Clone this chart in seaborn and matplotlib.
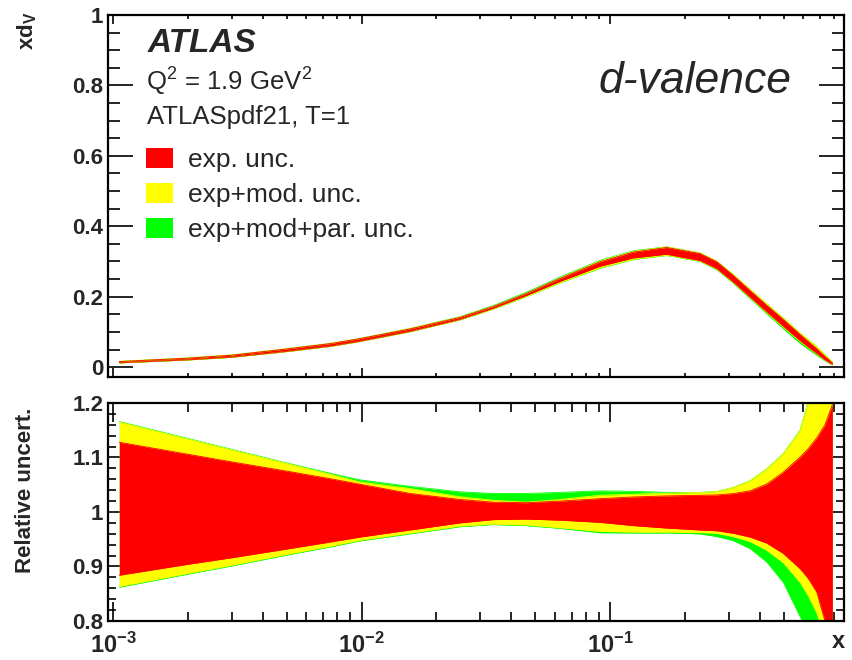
import numpy as np
import matplotlib
matplotlib.use("Agg")
import matplotlib.pyplot as plt
import seaborn as sns
from matplotlib.ticker import FixedLocator, LogLocator, FuncFormatter, NullFormatter
from matplotlib.patches import Patch

# ---------------- data ----------------
x = [0.00106, 0.002, 0.003, 0.005, 0.0075, 0.00986, 0.0157, 0.0249, 0.0339, 0.0462,
     0.063, 0.0912, 0.124, 0.169, 0.23, 0.269, 0.313, 0.366, 0.427, 0.498,
     0.582, 0.628, 0.679, 0.733, 0.785]
central = [0.014, 0.023, 0.031, 0.048, 0.063, 0.077, 0.105, 0.138, 0.169, 0.206,
           0.247, 0.292, 0.318, 0.330, 0.313, 0.290, 0.252, 0.209, 0.167, 0.126,
           0.084, 0.065, 0.046, 0.026, 0.010]
red_lo = [0.884, 0.904, 0.916, 0.932, 0.945, 0.954, 0.967, 0.980, 0.986, 0.987,
          0.985, 0.981, 0.975, 0.9705, 0.967, 0.9656, 0.961, 0.954, 0.943, 0.924,
          0.896, 0.878, 0.853, 0.800, 0.740]
red_hi = [1.128, 1.106, 1.092, 1.075, 1.061, 1.051, 1.034, 1.023, 1.018, 1.017,
          1.020, 1.0245, 1.0276, 1.0295, 1.0307, 1.0313, 1.0338, 1.0388, 1.0512, 1.073,
          1.1008, 1.1163, 1.136, 1.160, 1.197]
yel_lo = [0.863, 0.887, 0.902, 0.922, 0.937, 0.948, 0.961, 0.974, 0.9777, 0.976,
          0.971, 0.9643, 0.963, 0.963, 0.9624, 0.961, 0.955, 0.946, 0.930, 0.907,
          0.871, 0.8465, 0.815, 0.770, 0.720]
yel_hi = [1.165, 1.134, 1.114, 1.089, 1.069, 1.055, 1.043, 1.028, 1.0214, 1.018,
          1.023, 1.0307, 1.0326, 1.0344, 1.0357, 1.0375, 1.045, 1.0574, 1.079, 1.107,
          1.150, 1.203, 1.270, 1.350, 1.430]
grn_lo = [0.862, 0.886, 0.901, 0.921, 0.936, 0.947, 0.960, 0.973, 0.977, 0.975,
          0.970, 0.962, 0.9615, 0.9615, 0.960, 0.955, 0.9476, 0.933, 0.9085, 0.871,
          0.808, 0.780, 0.740, 0.700, 0.650]
grn_hi = [1.166, 1.135, 1.115, 1.090, 1.071, 1.059, 1.047, 1.037, 1.034, 1.034,
          1.036, 1.0388, 1.038, 1.036, 1.036, 1.0375, 1.045, 1.0574, 1.079, 1.107,
          1.150, 1.203, 1.270, 1.350, 1.430]

labels = ["exp. unc.", "exp+mod. unc.", "exp+mod+par. unc."]
upper_yticks = [0, 0.2, 0.4, 0.6, 0.8, 1.0]
lower_yticks = [0.8, 0.9, 1.0, 1.1, 1.2]

RED, YEL, GRN = "#ff0000", "#ffff00", "#00ff00"

# ---------------- style ----------------
sns.set_style("ticks")
plt.rcParams["font.family"] = ["Liberation Sans", "DejaVu Sans"]
plt.rcParams.update({
    "mathtext.fontset": "custom",
    "mathtext.rm": "Liberation Sans",
    "mathtext.it": "Liberation Sans:italic",
    "mathtext.bf": "Liberation Sans:bold",
    "mathtext.default": "regular",
})

W, H = 852, 660
fig = plt.figure(figsize=(W / 100, H / 100), dpi=100)
fig.patch.set_facecolor("white")


def axrect(l, t, r, b):
    return [l / W, 1 - b / H, (r - l) / W, (b - t) / H]


ax1 = fig.add_axes(axrect(108, 15, 844, 377))
ax2 = fig.add_axes(axrect(108, 403, 844, 621))

xa = np.array(x)
ca = np.array(central)
bands = [(grn_lo, grn_hi, GRN), (yel_lo, yel_hi, YEL), (red_lo, red_hi, RED)]

for ax, scale in [(ax1, ca), (ax2, np.ones_like(ca))]:
    for lo, hi, col in bands:
        ylo = scale * np.array(lo)
        yhi = scale * np.array(hi)
        ax.fill_between(xa, ylo, yhi, color=col, lw=0)
        sns.lineplot(x=xa, y=ylo, ax=ax, color=col, lw=0.6)
        sns.lineplot(x=xa, y=yhi, ax=ax, color=col, lw=0.6)

xmin, xmax = 10 ** (-3 - 5 / 248.5), 10 ** (-1 + 234 / 248.5)
for ax in (ax1, ax2):
    ax.set_xscale("log")
    ax.set_xlim(xmin, xmax)
    ax.set_xlabel("")
    ax.set_ylabel("")
    ax.xaxis.set_major_locator(LogLocator(base=10, numticks=10))
    ax.xaxis.set_minor_locator(LogLocator(base=10, subs=np.arange(2, 10), numticks=30))
    ax.xaxis.set_minor_formatter(NullFormatter())
    ax.tick_params(which="both", direction="in", top=True, right=True,
                   width=1.2, color="black")
    for s in ax.spines.values():
        s.set_linewidth(1.6)
        s.set_color("black")
    ax.set_facecolor("white")

fmt_y = FuncFormatter(lambda v, p: "%g" % round(v, 3))
fmt_x = FuncFormatter(lambda v, p: r"$\mathbf{10^{%d}}$" % int(round(np.log10(v))))

# upper panel
ax1.set_ylim(-0.028, 1.0)
ax1.yaxis.set_major_locator(FixedLocator(upper_yticks))
ax1.yaxis.set_minor_locator(FixedLocator(np.arange(0, 1.0001, 0.05)))
ax1.yaxis.set_major_formatter(fmt_y)
ax1.tick_params(axis="x", which="major", length=6.5, labelbottom=False)
ax1.tick_params(axis="x", which="minor", length=3)
ax1.tick_params(axis="y", which="major", length=18, pad=3.5, labelsize=16)
ax1.tick_params(axis="y", which="minor", length=8.6)
for t in ax1.get_yticklabels():
    t.set_fontweight("bold")

# lower panel
ax2.set_ylim(0.8, 1.2)
ax2.yaxis.set_major_locator(FixedLocator(lower_yticks))
ax2.yaxis.set_minor_locator(FixedLocator(np.arange(0.8, 1.2001, 0.02)))
ax2.yaxis.set_major_formatter(fmt_y)
ax2.xaxis.set_major_formatter(fmt_x)
ax2.tick_params(axis="x", which="major", length=14, pad=8.5, labelsize=17)
ax2.tick_params(axis="x", which="minor", length=6.5)
ax2.tick_params(axis="y", which="major", length=14.4, pad=3.5, labelsize=16)
ax2.tick_params(axis="y", which="minor", length=5.8)
for t in ax2.get_yticklabels():
    t.set_fontweight("bold")


def ftext(xp, yp, s, **kw):
    fig.text(xp / W, 1 - yp / H, s, **kw)


ftext(148, 52, "ATLAS", fontsize=24, fontweight="bold", style="italic", va="baseline")
ftext(146, 91, r"Q$^{2}$ = 1.9 GeV$^{2}$", fontsize=18.5, va="baseline")
ftext(147, 124, "ATLASpdf21, T=1", fontsize=18.5, va="baseline")
ftext(792, 93, "d-valence", fontsize=32, style="italic", ha="right", va="baseline")
ftext(845, 648, "x", fontsize=17, fontweight="bold", ha="right", va="baseline")
ftext(27, 12, r"$\mathbf{xd_{V}}$", fontsize=16, rotation=90, ha="center", va="top")
ftext(26, 408, "Relative uncert.", fontsize=16, fontweight="bold", rotation=90,
      ha="center", va="top")

handles = [Patch(facecolor=c, edgecolor="none", label=l)
           for c, l in zip([RED, YEL, GRN], labels)]
ax1.legend(handles=handles, loc="upper left", bbox_to_anchor=(146 / W, 1 - 148 / H),
           bbox_transform=fig.transFigure, frameon=False, borderpad=0, borderaxespad=0,
           fontsize=19, handlelength=1.02, handleheight=0.76, handletextpad=0.57,
           labelspacing=0.42)

fig.savefig("out.png", dpi=100, facecolor="white")
